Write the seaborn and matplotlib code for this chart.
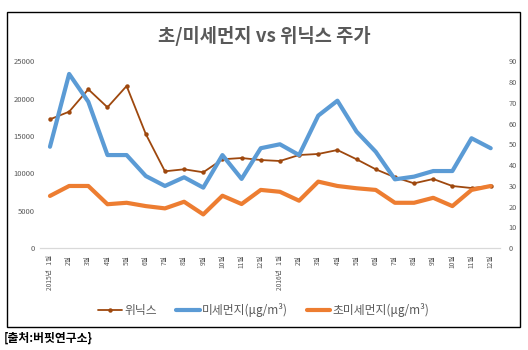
import numpy as np
import pandas as pd
import matplotlib
matplotlib.use("Agg")
import matplotlib.pyplot as plt
from matplotlib.lines import Line2D
from matplotlib.patches import Rectangle
import seaborn as sns

# 데이터 (2015.1 ~ 2016.12)
months = [f"{m}월" for m in range(1, 13)] * 2
winix = [17230, 18250, 21250, 18840, 21690, 15260, 10270, 10540, 10140, 11880, 12050, 11780,
         11650, 12450, 12590, 13120, 11880, 10540, 9470, 8660, 9240, 8300, 8030, 8300]
pm10 = [48.8, 83.9, 70.5, 44.8, 44.8, 34.7, 29.9, 34.1, 29.1, 44.8, 33.3, 48.1,
        50.0, 44.8, 63.8, 71.0, 56.1, 46.4, 33.1, 34.4, 37.1, 37.1, 52.9, 48.1]
pm25 = [25.1, 29.9, 29.9, 21.1, 21.8, 20.2, 19.1, 22.3, 16.2, 25.2, 21.2, 28.0,
        27.1, 22.8, 32.0, 29.9, 28.8, 28.0, 21.8, 21.8, 24.2, 20.2, 28.0, 29.9]

labels = list(months)
labels[0] = "2015년   " + labels[0]
labels[12] = "2016년   " + labels[12]

sns.set_style("white")
plt.rcParams['font.family'] = ['Noto Sans CJK KR', 'DejaVu Sans']
plt.rcParams['axes.unicode_minus'] = False

c_brown = "#9E480E"
c_blue = "#5B9BD5"
c_orange = "#ED7D31"
c_text = "#595959"

df = pd.DataFrame({"idx": np.arange(len(months)), "winix": winix, "pm10": pm10, "pm25": pm25})

fig = plt.figure(figsize=(5.28, 3.5), dpi=100)
ax = fig.add_axes([0.0765, 0.2914, 0.871, 0.5335])
ax2 = ax.twinx()

sns.lineplot(data=df, x="idx", y="winix", ax=ax, color=c_brown, linewidth=1.3,
             marker="o", markersize=3.2, markeredgewidth=0)
sns.lineplot(data=df, x="idx", y="pm10", ax=ax2, color=c_blue, linewidth=3.0)
sns.lineplot(data=df, x="idx", y="pm25", ax=ax2, color=c_orange, linewidth=3.0)

ax.set_xlim(-0.5, len(months) - 0.5)
ax.set_ylim(0, 25000)
ax2.set_ylim(0, 90)
ax.set_yticks(range(0, 25001, 5000))
ax2.set_yticks(range(0, 91, 10))
ax.set_xticks(df["idx"])
ax.set_xticklabels(labels, rotation=90, fontsize=4.8, color=c_text, va="top")
ax.tick_params(axis="y", labelsize=5.5, colors=c_text, length=0, pad=4)
ax2.tick_params(axis="y", labelsize=5.3, colors=c_text, length=0, pad=6)
ax.tick_params(axis="x", length=0, pad=5)
ax.set_xlabel("")
ax.set_ylabel("")
ax2.set_ylabel("")
for a in (ax, ax2):
    for s in ["top", "left", "right"]:
        a.spines[s].set_visible(False)
    a.spines["bottom"].set_color("#D9D9D9")
    a.grid(False)

handles = [
    Line2D([], [], color=c_brown, linewidth=1.3, marker="o", markersize=3.2, markeredgewidth=0),
    Line2D([], [], color=c_blue, linewidth=3.0),
    Line2D([], [], color=c_orange, linewidth=3.0),
]
names = ["위닉스", "미세먼지(μg/m³)", "초미세먼지(μg/m³)"]
fig.legend(handles, names, loc="center", bbox_to_anchor=(0.5, 1 - 310 / 350), ncol=3,
           frameon=False, fontsize=8.5, labelcolor=c_text, handlelength=2.0,
           handletextpad=0.2, columnspacing=1.6)

fig.text(0.5, 1 - 36 / 350, "초/미세먼지 vs 위닉스 주가", ha="center", va="center",
         fontsize=13.5, fontweight="bold", color=c_text)
fig.text(0.008, 1 - 338 / 350, "[출처:버핏연구소}", ha="left", va="center",
         fontsize=8.5, fontweight="bold", color="black")

fig.patches.append(Rectangle((6.5 / 528, 1 - 327 / 350), (520 - 6.5) / 528, (327 - 11.7) / 350,
                             transform=fig.transFigure, fill=False, edgecolor="black",
                             linewidth=1.0))

fig.savefig("out.png", dpi=100)
